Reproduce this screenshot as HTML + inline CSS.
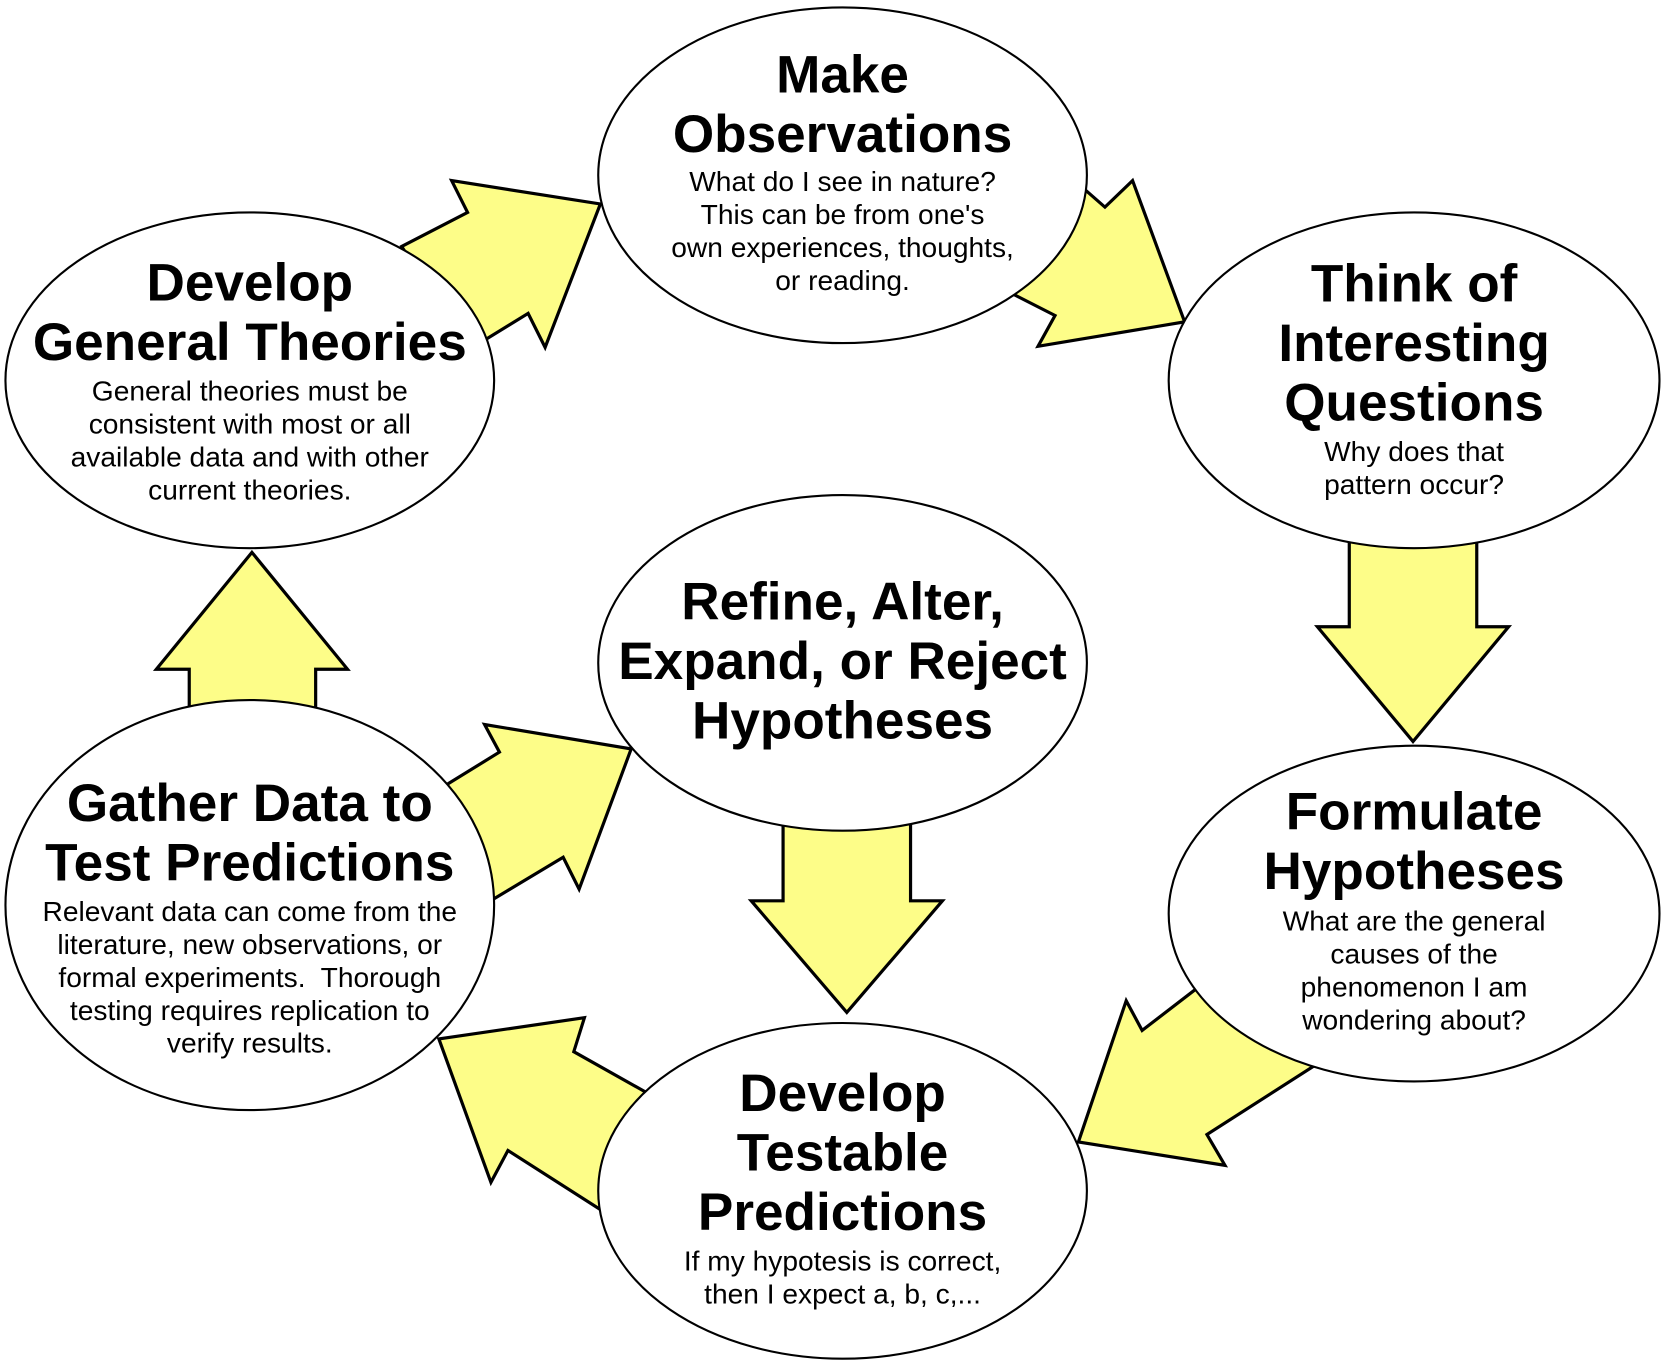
<!DOCTYPE html>
<html><head><style>html,body{margin:0;padding:0;background:#fff}svg{display:block}</style></head>
<body>
<svg width="1666" height="1364" viewBox="0 0 1568 1284" xmlns="http://www.w3.org/2000/svg" font-family="Liberation Sans, Arial, sans-serif">
<g fill="#fdfd88" stroke="#000" stroke-width="3" stroke-linejoin="miter">
<polygon points="378,232 440,200 425,170 565,192 513,327 497,295 440,330"/>
<polygon points="1000,160 1040,195 1066,170 1115,303 977,326 993,297 940,270"/>
<polygon points="1270,505 1390,505 1390,590 1420,590 1330,698 1240,590 1270,590"/>
<polygon points="1140,920 1075,970 1060,942 1015,1075 1153,1097 1136,1068 1250,995"/>
<polygon points="737,770 857,770 857,848 887,848 797,953 707,848 737,848"/>
<polygon points="620,1035 540,990 550,958 413,978 462,1113 478,1083 575,1145"/>
<polygon points="410,745 470,708 456,682 594,705 545,837 530,807 450,855"/>
<polygon points="178,670 297,670 297,630 327,630 237,520 147,630 178,630"/>
</g>
<g fill="#fff" stroke="#000" stroke-width="2">
<ellipse cx="793" cy="165" rx="230" ry="158"/>
<ellipse cx="1331" cy="358" rx="231" ry="158"/>
<ellipse cx="1331" cy="860" rx="231" ry="158"/>
<ellipse cx="793" cy="1121" rx="230" ry="158"/>
<ellipse cx="235" cy="852" rx="230" ry="193"/>
<ellipse cx="235" cy="358" rx="230" ry="158"/>
<ellipse cx="793" cy="624" rx="230" ry="158"/>
</g>
<g text-anchor="middle" fill="#000">
<g font-weight="bold" font-size="50">
<text x="793" y="87">Make</text><text x="793" y="143">Observations</text>
<text x="1331" y="284">Think of</text><text x="1331" y="340">Interesting</text><text x="1331" y="396">Questions</text>
<text x="1331" y="781">Formulate</text><text x="1331" y="837">Hypotheses</text>
<text x="793" y="1046">Develop</text><text x="793" y="1102">Testable</text><text x="793" y="1158">Predictions</text>
<text x="235" y="773">Gather Data to</text><text x="235" y="829">Test Predictions</text>
<text x="235" y="283">Develop</text><text x="235" y="339">General Theories</text>
<text x="793" y="583">Refine, Alter,</text><text x="793" y="639">Expand, or Reject</text><text x="793" y="695">Hypotheses</text>
</g>
<g font-size="26.5">
<text x="793" y="180">What do I see in nature?</text><text x="793" y="211">This can be from one's</text><text x="793" y="242">own experiences, thoughts,</text><text x="793" y="273">or reading.</text>
<text x="1331" y="434">Why does that</text><text x="1331" y="465">pattern occur?</text>
<text x="1331" y="876">What are the general</text><text x="1331" y="907">causes of the</text><text x="1331" y="938">phenomenon I am</text><text x="1331" y="969">wondering about?</text>
<text x="793" y="1196">If my hypotesis is correct,</text><text x="793" y="1227">then I expect a, b, c,...</text>
<text x="235" y="867">Relevant data can come from the</text><text x="235" y="898">literature, new observations, or</text><text x="235" y="929" xml:space="preserve">formal experiments.  Thorough</text><text x="235" y="960">testing requires replication to</text><text x="235" y="991">verify results.</text>
<text x="235" y="377">General theories must be</text><text x="235" y="408">consistent with most or all</text><text x="235" y="439">available data and with other</text><text x="235" y="470">current theories.</text>
</g>
</g>
</svg>
</body></html>
